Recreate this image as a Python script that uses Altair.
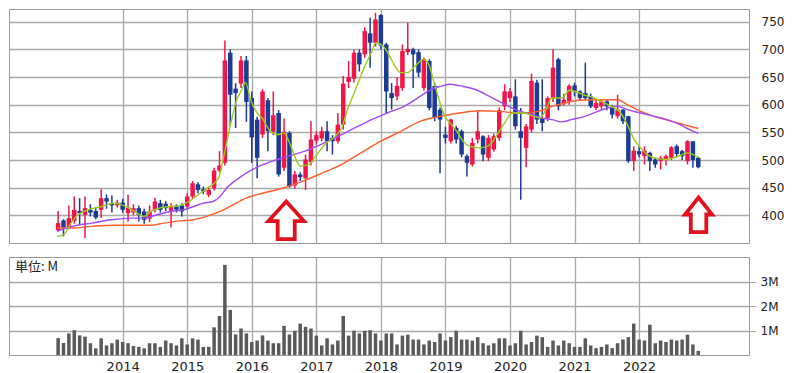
import altair as alt
import pandas as pd

# ---------------- data (monthly, index 0 = Jan 2013) ----------------
month_idx = list(range(120))
open_ = [373, 391, 377, 390, 408, 401, 410, 408, 410, 431, 422, 418,
         423, 404, 405, 413, 407, 394, 410, 422, 421, 408, 416, 418,
         416, 434, 456, 447, 437, 449, 481, 495, 694, 629, 638, 680,
         612, 573, 546, 608, 551, 585, 486, 549, 454, 474, 467, 496,
         535, 539, 552, 540, 534, 564, 641, 647, 694, 691, 729, 712,
         762, 709, 621, 615, 630, 695, 700, 695, 630, 679, 634, 591,
         546, 534, 558, 552, 507, 492, 537, 543, 504, 519, 540, 597,
         612, 615, 552, 522, 555, 640, 576, 576, 612, 682, 603, 606,
         635, 624, 621, 615, 594, 597, 606, 597, 579, 591, 579, 498,
         516, 507, 513, 501, 498, 500, 504, 525, 516, 498, 534, 504]
close_ = [386, 378, 395, 410, 404, 413, 405, 396, 431, 425, 418, 423,
          410, 414, 413, 401, 392, 407, 425, 410, 413, 416, 410, 407,
          434, 458, 446, 443, 446, 481, 490, 680, 618, 621, 680, 605,
          541, 504, 624, 552, 581, 474, 551, 452, 474, 469, 501, 537,
          545, 552, 534, 534, 564, 638, 650, 694, 673, 733, 712, 754,
          707, 624, 612, 634, 697, 701, 691, 658, 682, 594, 576, 573,
          540, 573, 537, 510, 495, 531, 552, 510, 540, 543, 590, 624,
          624, 561, 540, 561, 643, 573, 567, 612, 667, 597, 609, 634,
          624, 612, 612, 597, 603, 606, 597, 582, 591, 570, 498, 517,
          510, 517, 498, 492, 504, 507, 523, 511, 507, 534, 500, 487]
high_ = [408, 393, 418, 434, 431, 434, 420, 415, 447, 438, 436, 428,
         430, 437, 420, 418, 412, 418, 432, 428, 426, 422, 420, 422,
         440, 462, 460, 452, 452, 486, 516, 716, 700, 639, 688, 688,
         624, 578, 628, 612, 624, 590, 575, 552, 480, 478, 510, 570,
         552, 560, 570, 545, 585, 652, 679, 700, 700, 740, 757, 766,
         764, 712, 639, 650, 709, 748, 703, 700, 685, 682, 640, 595,
         560, 575, 562, 555, 510, 540, 588, 545, 545, 548, 595, 637,
         630, 646, 594, 565, 656, 645, 646, 615, 700, 685, 620, 637,
         640, 626, 676, 620, 608, 610, 610, 600, 618, 592, 580, 525,
         525, 525, 515, 504, 507, 510, 525, 528, 518, 536, 534, 506]
low_ = [371, 362, 375, 385, 382, 359, 398, 393, 395, 412, 405, 414,
        405, 389, 400, 389, 385, 388, 405, 405, 408, 378, 405, 398,
        410, 430, 440, 438, 433, 445, 478, 490, 561, 558, 630, 569,
        495, 467, 540, 516, 545, 470, 480, 450, 448, 462, 446, 490,
        528, 534, 516, 510, 530, 555, 630, 640, 660, 685, 667, 705,
        700, 585, 591, 608, 625, 690, 630, 650, 625, 590, 570, 476,
        530, 530, 530, 505, 470, 488, 530, 498, 498, 515, 535, 590,
        605, 555, 428, 487, 550, 565, 552, 570, 605, 590, 598, 600,
        615, 608, 608, 594, 590, 592, 590, 575, 575, 565, 495, 480,
        505, 492, 480, 486, 483, 490, 500, 505, 500, 492, 486, 485]
volume_m = [0.69, 0.49, 0.88, 1.01, 0.80, 0.75, 0.48, 0.27, 0.68, 0.39, 0.48, 0.63,
            0.53, 0.48, 0.37, 0.33, 0.27, 0.48, 0.48, 0.33, 0.59, 0.48, 0.39, 0.68,
            0.43, 0.68, 0.63, 0.33, 0.33, 1.13, 1.59, 3.68, 1.84, 0.84, 1.08, 0.88,
            0.53, 0.59, 0.80, 0.59, 0.48, 0.48, 1.19, 0.84, 0.99, 1.28, 1.15, 1.08,
            0.79, 0.39, 0.68, 0.43, 0.59, 1.59, 0.79, 0.99, 0.88, 0.99, 1.01, 0.88,
            0.59, 0.88, 0.88, 0.43, 0.79, 0.83, 0.63, 0.63, 0.43, 0.59, 0.53, 0.88,
            0.59, 0.73, 0.99, 0.63, 0.63, 0.59, 0.73, 0.48, 0.39, 0.48, 0.68, 0.68,
            0.39, 0.48, 0.99, 0.43, 0.53, 0.79, 0.73, 0.33, 0.59, 0.39, 0.59, 0.48,
            0.33, 0.33, 0.68, 0.39, 0.28, 0.33, 0.43, 0.28, 0.48, 0.63, 0.73, 1.28,
            0.63, 0.59, 1.24, 0.48, 0.59, 0.53, 0.63, 0.59, 0.63, 0.83, 0.43, 0.17]

# moving-average lines (month index, price)
ma_short_m = [-0.2, 1, 2.6, 3.7, 5.6, 8.1, 10.5, 12.6, 14.7, 16, 17.2, 19.1, 20.9, 22.7,
              24.3, 26.4, 28.2, 29.8, 31, 31.9, 33.1, 34.2, 34.8, 35.9, 37, 38, 39.2,
              40.8, 42, 42.9, 44.1, 45, 46.6, 48.1, 49.6, 51.1, 52.7, 53.9, 55.4, 56.9,
              58.2, 59.1, 60, 60.9, 62.1, 63.7, 64.9, 66.4, 67.9, 68.9, 69.8, 70.7, 71.9,
              73.1, 74.1, 75.3, 76.5, 78.3, 79.9, 80.8, 82, 83.2, 84.4, 86.6, 88.4, 89.6,
              90.5, 91.8, 93.6, 95.1, 96.4, 97.6, 99.1, 100.6, 102.2, 103.4, 104.6, 105.8,
              107.1, 108.3, 109.8, 111.3, 112.9, 114.4, 115.6, 116.9, 117.8, 119]
ma_short_v = [362, 365, 389, 401, 410, 416, 422, 416, 404, 398, 407, 414, 416, 418,
              425, 440, 452, 467, 516, 558, 606, 628, 640, 606, 585, 575, 555,
              546, 549, 534, 504, 489, 492, 510, 528, 540, 558, 594, 630, 667,
              694, 712, 709, 700, 679, 658, 658, 670, 682, 673, 643, 612, 579,
              564, 552, 534, 525, 522, 525, 534, 552, 570, 585, 585, 579, 576,
              588, 612, 612, 626, 623, 618, 614, 608, 600, 594, 585, 564,
              537, 522, 508, 503, 501, 504, 508, 513, 511, 504]
ma_mid_m = [-0.2, 2.6, 6.2, 9.9, 13.6, 16, 18.4, 20.9, 23.3, 25.2, 27, 28.8, 30.1, 31.3,
            33.1, 34.9, 37.4, 39.8, 41.7, 45.9, 50.2, 53.9, 57.6, 61.2, 64.3, 67.3, 69.2,
            71, 72.8, 75.3, 77.7, 80.2, 82, 84.4, 86.9, 88.1, 89.9, 91.8, 93.6, 95.4,
            97.9, 100.3, 102.2, 104, 105.8, 108.3, 110.8, 113.2, 115.6, 117.4, 119]
ma_mid_v = [371, 380, 386, 392, 395, 395, 401, 407, 410, 416, 422, 425, 434, 449,
            464, 476, 489, 498, 504, 516, 534, 552, 570, 585, 597, 615, 627,
            633, 637, 633, 627, 615, 606, 594, 585, 582, 576, 573, 569, 573,
            579, 588, 594, 597, 591, 585, 579, 573, 564, 555, 548]
ma_long_m = [-0.2, 2.6, 6.2, 10.5, 14.7, 17.2, 19.7, 22.7, 25.2, 27.6, 30.1, 32.5, 34.9,
             38, 41.7, 45.3, 49, 52.7, 56.3, 60, 63.7, 67.3, 71, 74.7, 78.3, 82, 85.7,
             89.3, 91.8, 94.2, 96.7, 99.1, 101.6, 104, 105.8, 108.3, 110.8, 113.2, 115.6,
             117.4, 119]
ma_long_v = [377, 377, 380, 382, 382, 382, 386, 390, 392, 398, 407, 419, 431,
             440, 449, 461, 476, 492, 513, 534, 552, 570, 579, 585, 589, 588, 585,
             588, 597, 603, 608, 609, 609, 609, 600, 588, 579, 572, 566,
             561, 557]

year_ticks = [12, 24, 36, 48, 60, 72, 84, 96, 108]
price_ticks = [400, 450, 500, 550, 600, 650, 700, 750]
vol_ticks = [1, 2, 3]

# annotation arrows (month index, price)
arrow_m = [42.4, 119.05]
arrow_v = [391, 401]

# ---------------- styling ----------------
RED = "#f0164a"
BLUE = "#1b3c92"
GREEN = "#9acd1e"
PURPLE = "#a24cf5"
ORANGE = "#ff5e2e"
GRID = "#aaaaaa"

df = pd.DataFrame({"m": month_idx, "open": open_, "high": high_, "low": low_,
                   "close": close_, "vol": volume_m})
df["dir"] = ["up" if c >= o else "down" for o, c in zip(open_, close_)]

xscale = alt.Scale(domain=[-8.2, 127.5], nice=False, zero=False)
yscale = alt.Scale(domain=[350, 773], nice=False, zero=False)
color = alt.Color("dir:N", scale=alt.Scale(domain=["up", "down"], range=[RED, BLUE]), legend=None)

top_x_axis = alt.Axis(values=year_ticks, labels=False, ticks=False, domain=False,
                      grid=True, title=None)
price_axis = alt.Axis(orient="right", values=price_ticks, ticks=False, labelPadding=12,
                      labelOverlap=False, domain=False, grid=True, title=None)


def tx():
    return alt.X("m:Q", scale=xscale, axis=top_x_axis)


def ty(field):
    return alt.Y(field, scale=yscale, axis=price_axis)


base = alt.Chart(df)
wicks = base.mark_rule(strokeWidth=1.5).encode(x=tx(), y=ty("low:Q"), y2="high:Q", color=color)
bodies = base.mark_bar(size=4.5).encode(x=tx(), y=ty("open:Q"), y2="close:Q", color=color)


def ma_line(ms, vs, col):
    d = pd.DataFrame({"m": ms, "v": vs})
    return alt.Chart(d).mark_line(color=col, strokeWidth=1.4, interpolate="monotone", clip=True).encode(
        x=tx(), y=ty("v:Q"))


line_long = ma_line(ma_long_m, ma_long_v, ORANGE)
line_mid = ma_line(ma_mid_m, ma_mid_v, PURPLE)
line_short = ma_line(ma_short_m, ma_short_v, GREEN)

arrow1_path = "M0,-1.06 L1,0.04 L0.48,0.04 L0.48,1.06 L-0.48,1.06 L-0.48,0.04 L-1,0.04 Z"
arrow2_path = "M0,-1.27 L1,-0.02 L0.57,-0.02 L0.57,1.27 L-0.57,1.27 L-0.57,-0.02 L-1,-0.02 Z"
arr1 = alt.Chart(pd.DataFrame({"m": arrow_m[:1], "v": arrow_v[:1]})).mark_point(
    shape=arrow1_path, size=1260, filled=True, color="white", stroke="#e3101e",
    strokeWidth=3.8, opacity=1).encode(x=tx(), y=ty("v:Q"))
arr2 = alt.Chart(pd.DataFrame({"m": arrow_m[1:], "v": arrow_v[1:]})).mark_point(
    shape=arrow2_path, size=740, filled=True, color="white", stroke="#e3101e",
    strokeWidth=3.8, opacity=1).encode(x=tx(), y=ty("v:Q"))

top = alt.layer(wicks, bodies, line_long, line_mid, line_short, arr1, arr2).properties(
    width=740, height=234)

vol_bars = base.mark_bar(size=3.5, color="#5a5a5a").encode(
    x=alt.X("m:Q", scale=xscale,
            axis=alt.Axis(values=year_ticks, labelExpr="2013 + datum.value / 12", ticks=False,
                          labelOverlap=False, domain=False, grid=True, labelPadding=5,
                          labelFontSize=13, title=None)),
    y=alt.Y("vol:Q", scale=alt.Scale(domain=[0, 4], nice=False),
            axis=alt.Axis(orient="right", values=vol_ticks, labelExpr="datum.value + 'M'",
                          labelOverlap=False, tickSize=7, tickColor=GRID, labelPadding=4,
                          domain=False, grid=True, title=None)))
unit_text = alt.Chart(pd.DataFrame({"t": ["単位: M"]})).mark_text(
    align="left", baseline="middle", fontSize=13, font="Noto Sans CJK JP", color="#222").encode(
    text="t:N", x=alt.value(6), y=alt.value(10))

vol = alt.layer(vol_bars, unit_text).properties(width=740, height=98)

chart = alt.vconcat(top, vol, spacing=8).properties(padding=0, background="white").configure_view(
    stroke="#9a9a9a", strokeWidth=1).configure_axis(
    gridColor=GRID, gridWidth=1.3, labelColor="#222", labelFont="DejaVu Sans", labelFontSize=12)

chart.save("out.html", embed_options={"renderer": "svg", "actions": False})
